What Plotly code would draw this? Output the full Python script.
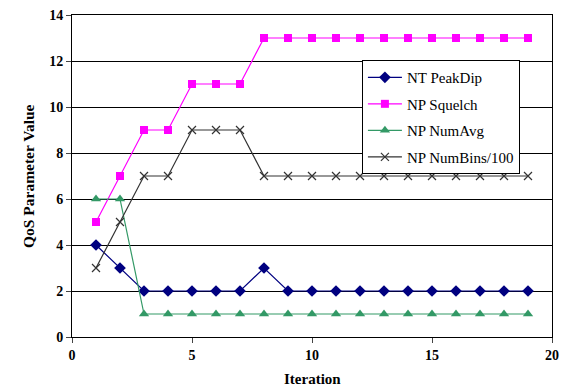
import plotly.graph_objects as go

iterations = list(range(1, 20))
nt_peakdip = [4, 3, 2, 2, 2, 2, 2, 3, 2, 2, 2, 2, 2, 2, 2, 2, 2, 2, 2]
np_squelch = [5, 7, 9, 9, 11, 11, 11, 13, 13, 13, 13, 13, 13, 13, 13, 13, 13, 13, 13]
np_numavg = [6, 6, 1, 1, 1, 1, 1, 1, 1, 1, 1, 1, 1, 1, 1, 1, 1, 1, 1]
np_numbins = [3, 5, 7, 7, 9, 9, 9, 7, 7, 7, 7, 7, 7, 7, 7, 7, 7, 7, 7]
x_ticks = [0, 5, 10, 15, 20]
y_ticks = [0, 2, 4, 6, 8, 10, 12, 14]

serif = "Liberation Serif, Times New Roman, serif"

fig = go.Figure()
fig.add_trace(go.Scatter(x=iterations, y=nt_peakdip, name="NT PeakDip", mode="lines+markers",
                         legendgroup="a",
                         line=dict(color="#000080", width=1.2),
                         marker=dict(symbol="diamond", size=9, color="#000080")))
fig.add_trace(go.Scatter(x=iterations, y=np_squelch, name="NP Squelch", mode="lines+markers",
                         legendgroup="b",
                         line=dict(color="#FF00FF", width=1.2),
                         marker=dict(symbol="square", size=8, color="#FF00FF")))
fig.add_trace(go.Scatter(x=iterations, y=np_numavg, name="NP NumAvg", mode="lines+markers",
                         legendgroup="c",
                         line=dict(color="#339966", width=1.2),
                         marker=dict(symbol="triangle-up", size=9, color="#339966")))
fig.add_trace(go.Scatter(x=iterations, y=np_numbins, name="NP NumBins/100", mode="lines+markers",
                         legendgroup="d",
                         line=dict(color="#333333", width=1.2),
                         marker=dict(symbol="x-thin", size=8, color="#333333",
                                     line=dict(color="#333333", width=1.2))))

fig.update_layout(
    width=564, height=389,
    margin=dict(l=72, r=12, t=15, b=52, autoexpand=False),
    plot_bgcolor="white", paper_bgcolor="white",
    font=dict(family=serif, color="black", size=13),
    showlegend=True,
    legend=dict(x=0.604, y=0.86, xanchor="left", yanchor="top",
                bgcolor="white", bordercolor="black", borderwidth=1,
                font=dict(family=serif, size=15, color="black"),
                traceorder="grouped", tracegroupgap=4, itemwidth=34),
    xaxis=dict(range=[0, 20], tickvals=x_ticks, ticktext=[f"<b>{v}</b>" for v in x_ticks],
               ticks="outside", ticklen=5,
               showline=True, linecolor="black", linewidth=1, mirror=True, showgrid=False,
               zeroline=False, automargin=False,
               tickfont=dict(family=serif, size=14, color="black")),
    yaxis=dict(range=[0, 14], tickvals=y_ticks, ticktext=[f"<b>{v}</b>" for v in y_ticks],
               ticks="outside", ticklen=5,
               showline=True, linecolor="black", linewidth=1, mirror=True,
               showgrid=True, gridcolor="black", gridwidth=1, zeroline=False, automargin=False,
               tickfont=dict(family=serif, size=14, color="black")),
    annotations=[
        dict(text="<b>Iteration</b>", x=0.5, y=-42 / 322, xref="paper", yref="paper",
             showarrow=False, font=dict(family=serif, size=15, color="black"),
             xanchor="center", yanchor="middle"),
        dict(text="<b>QoS Parameter Value</b>", x=-44 / 480, y=0.5, xref="paper", yref="paper",
             showarrow=False, textangle=-90, font=dict(family=serif, size=15.5, color="black"),
             xanchor="center", yanchor="middle"),
    ],
)

fig.write_html("out.html", config={"displayModeBar": False},
               post_script="document.body.style.margin='0';document.body.style.padding='0';")
